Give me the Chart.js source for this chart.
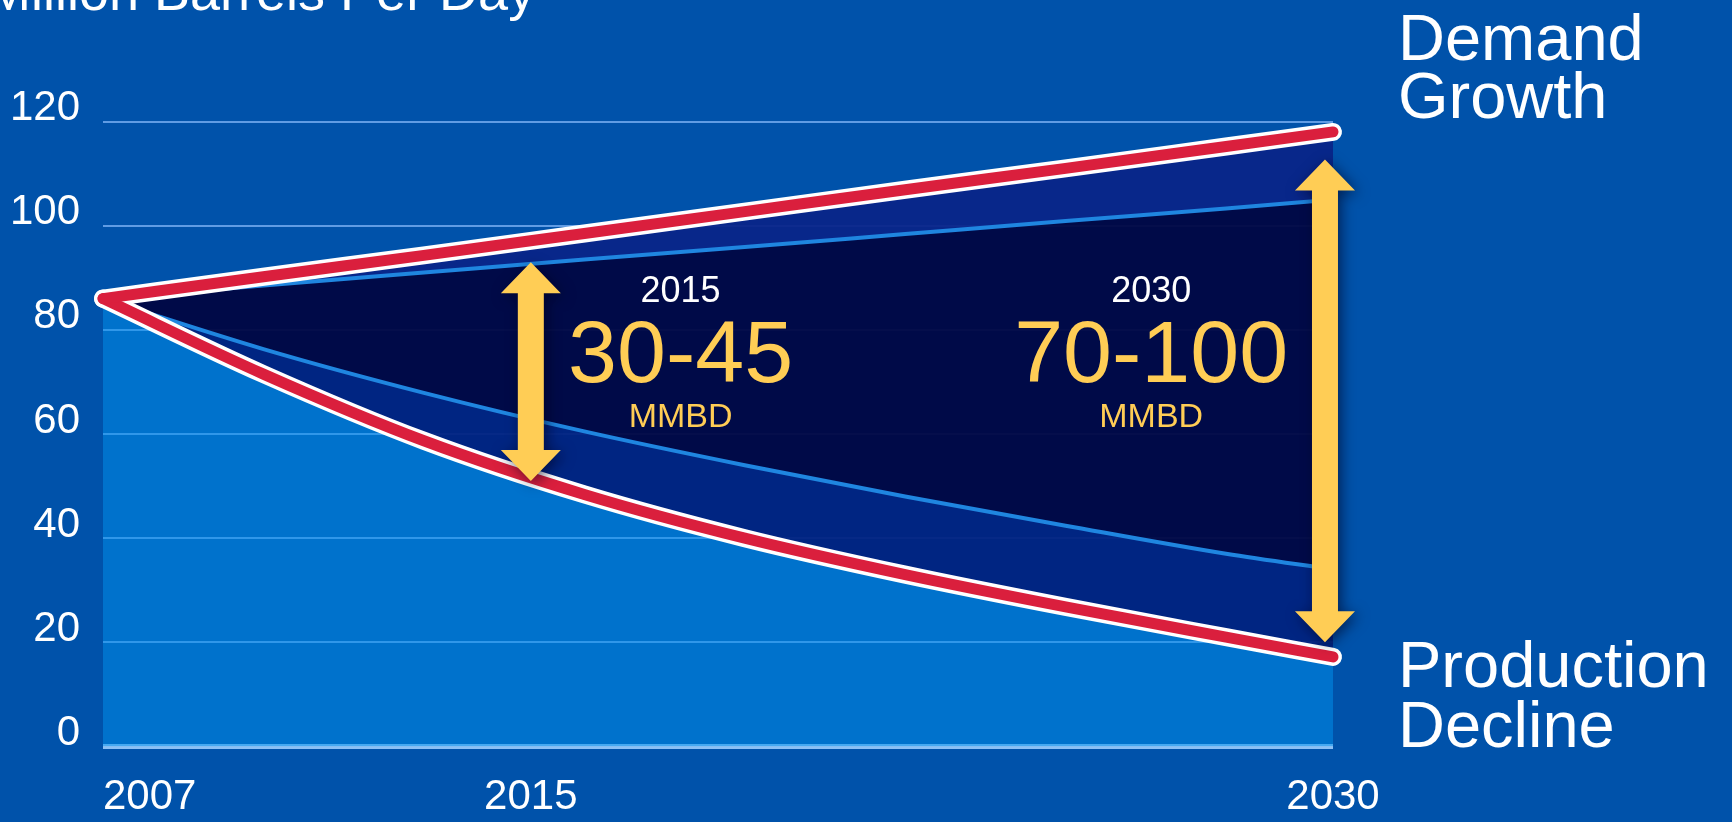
<!DOCTYPE html>
<html>
<head>
  <title>Supply Gap</title>
  <script src="https://cdn.jsdelivr.net/npm/chart.js"></script>
  <style>
    html, body { margin: 0; padding: 0; background: #0052aa; overflow: hidden; }
  </style>
</head>
<body>
  <canvas id="gapChart" width="1732" height="822"></canvas>

  <script>
    // values (million barrels per day)
    const years = [2007, 2010, 2013, 2016, 2019, 2022, 2025, 2028, 2030];
    const demandGrowth = [86, 90.2, 94.3, 98.5, 102.7, 106.9, 111, 115.2, 118];
    const demandLow = [86, 88.5, 91, 93.5, 95.9, 98.4, 100.9, 103.3, 105];
    const productionHigh = [86, 76.3, 67.9, 60.5, 54, 48, 42.4, 37, 34];
    const productionDecline = [86, 71.5, 58.7, 48.4, 40, 33, 26.8, 21, 17.2];

    const xTickYears = [2007, 2015, 2030];

    // gap arrows and their labels
    const gapYears = ['2015', '2030'];
    const gapRanges = ['30-45', '70-100'];
    const arrowYears = [2015, 2029.85];
    const arrowLow = [51, 20];
    const arrowHigh = [93, 112.7];
    const gapLabelX = [2017.8, 2026.6];

    const toPoints = vals => vals.map((v, i) => ({ x: years[i], y: v }));

    const RED = '#da1f3d';
    const THIN_BLUE = '#1f86e0';
    const YELLOW = '#ffcd55';
    const FONT = '"Liberation Sans", Arial, sans-serif';

    Chart.defaults.font.family = FONT;

    function lineSet(label, vals, color, width, order) {
      return {
        label, data: toPoints(vals), borderColor: color, borderWidth: width,
        borderCapStyle: 'round', borderJoinStyle: 'round', clip: false,
        pointRadius: 0, cubicInterpolationMode: 'monotone', fill: false, order
      };
    }

    function fillSet(label, vals, target, color) {
      return {
        label, data: toPoints(vals), borderColor: 'rgba(0,0,0,0)', borderWidth: 1,
        pointRadius: 0, cubicInterpolationMode: 'monotone',
        fill: target, backgroundColor: color, order: 3
      };
    }

    const overlay = {
      id: 'overlay',
      afterDatasetsDraw(chart) {
        const { ctx, scales: { x, y } } = chart;
        ctx.save();
        ctx.fillStyle = YELLOW;
        ctx.shadowColor = 'rgba(0, 0, 30, 0.6)';
        ctx.shadowBlur = 14;
        ctx.shadowOffsetX = 3;
        ctx.shadowOffsetY = 3;
        arrowYears.forEach((yr, i) => {
          const cx = x.getPixelForValue(yr);
          const top = y.getPixelForValue(arrowHigh[i]);
          const bot = y.getPixelForValue(arrowLow[i]);
          const sw = 13, hw = 30, hl = 31;
          ctx.beginPath();
          ctx.moveTo(cx, top);
          ctx.lineTo(cx + hw, top + hl);
          ctx.lineTo(cx + sw, top + hl);
          ctx.lineTo(cx + sw, bot - hl);
          ctx.lineTo(cx + hw, bot - hl);
          ctx.lineTo(cx, bot);
          ctx.lineTo(cx - hw, bot - hl);
          ctx.lineTo(cx - sw, bot - hl);
          ctx.lineTo(cx - sw, top + hl);
          ctx.lineTo(cx - hw, top + hl);
          ctx.closePath();
          ctx.fill();
        });
        ctx.restore();

        ctx.save();
        ctx.textAlign = 'center';
        ctx.textBaseline = 'alphabetic';
        gapYears.forEach((label, i) => {
          const cx = x.getPixelForValue(gapLabelX[i]);
          ctx.fillStyle = '#ffffff';
          ctx.font = '36px ' + FONT;
          ctx.fillText(label, cx, y.getPixelForValue(85.3));
          ctx.fillStyle = YELLOW;
          ctx.font = '88px ' + FONT;
          ctx.fillText(gapRanges[i], cx, y.getPixelForValue(69.9));
          ctx.font = '34px ' + FONT;
          ctx.fillText('MMBD', cx, y.getPixelForValue(61.3));
        });
        ctx.restore();
      },
      afterDraw(chart) {
        const { ctx, chartArea } = chart;
        ctx.save();
        ctx.fillStyle = '#ffffff';
        ctx.textAlign = 'left';
        ctx.textBaseline = 'alphabetic';
        ctx.font = '54px ' + FONT;
        ctx.fillText('Million Barrels Per Day', -14, 10);
        ctx.font = '65px ' + FONT;
        const lx = chartArea.right + 65;
        ctx.fillText('Demand', lx, 60);
        ctx.fillText('Growth', lx, 118);
        ctx.fillText('Production', lx, 687);
        ctx.fillText('Decline', lx, 747);
        ctx.restore();
      }
    };

    const tickFont = { size: 42 };
    // labels hang below the plot: mirrored ticks with a negative padding
    const xTicks = { color: '#ffffff', font: tickFont, mirror: true, padding: -76.4, maxRotation: 0, autoSkip: false, callback: v => String(v) };

    new Chart(document.getElementById('gapChart'), {
      type: 'line',
      data: {
        datasets: [
          lineSet('Demand Growth', demandGrowth, RED, 11, 0),          // 0
          lineSet('Production Decline', productionDecline, RED, 11, 0), // 1
          lineSet('Demand outline', demandGrowth, '#ffffff', 18, 1),   // 2
          lineSet('Production outline', productionDecline, '#ffffff', 18, 1), // 3
          lineSet('Demand low', demandLow, THIN_BLUE, 4, 2),            // 4
          lineSet('Production high', productionHigh, THIN_BLUE, 4, 2),  // 5
          fillSet('band top', demandGrowth, { target: 4 }, 'rgba(8, 36, 136, 0.94)'),
          fillSet('band mid', demandLow, { target: 5 }, 'rgba(0, 6, 66, 0.95)'),
          fillSet('band low', productionHigh, { target: 3 }, 'rgba(0, 34, 128, 0.94)'),
          fillSet('below', productionDecline, 'origin', 'rgba(0, 146, 238, 0.5)')
        ]
      },
      options: {
        responsive: false,
        animation: false,
        layout: { padding: { top: 121.5, right: 399, bottom: 75.5, left: 0 } },
        plugins: { legend: { display: false }, tooltip: { enabled: false } },
        scales: {
          x: {
            type: 'linear', min: 2007, max: 2030,
            grid: { display: false }, border: { display: false },
            afterBuildTicks: s => { s.ticks = xTickYears.slice(1).map(v => ({ value: v })); },
            afterFit: s => { s.height = 0; },
            ticks: xTicks
          },
          x2: {
            type: 'linear', position: 'bottom', min: 2007, max: 2030,
            grid: { display: false }, border: { display: false },
            afterBuildTicks: s => { s.ticks = [{ value: xTickYears[0] }]; },
            afterFit: s => { s.height = 0; },
            ticks: Object.assign({}, xTicks, { align: 'start' })
          },
          y: {
            min: 0, max: 120,
            border: { display: false },
            afterFit: s => { s.width = 103; },
            grid: {
              drawTicks: false,
              color: c => c.tick && c.tick.value === 0 ? '#8cc0f4' : 'rgba(96, 156, 228, 1)',
              lineWidth: c => c.tick && c.tick.value === 0 ? 5 : 2
            },
            ticks: { stepSize: 20, color: '#ffffff', font: tickFont, padding: 23, labelOffset: -13 }
          }
        }
      },
      plugins: [overlay]
    });
  </script>
</body>
</html>
